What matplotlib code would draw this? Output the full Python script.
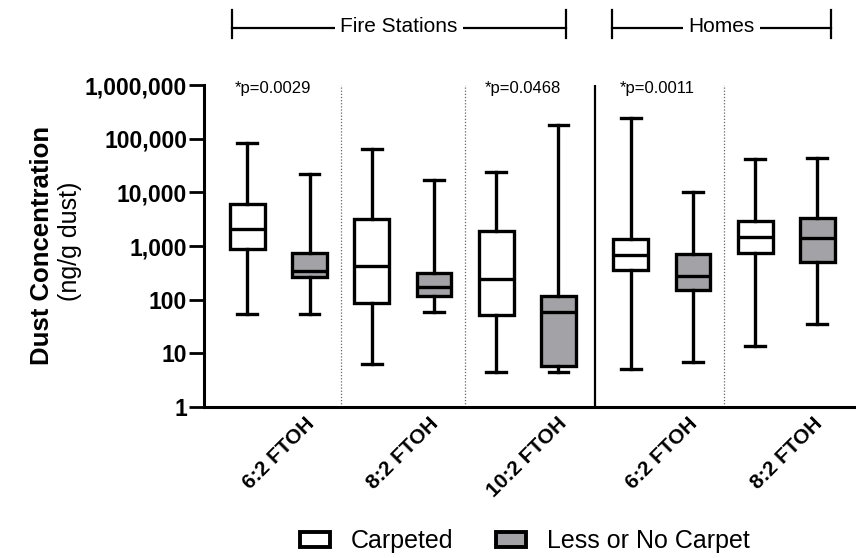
import numpy as np
import matplotlib
matplotlib.use("Agg")
import matplotlib.pyplot as plt
from matplotlib.patches import Patch
from matplotlib.ticker import FixedLocator, FixedFormatter

plt.rcParams["font.family"] = ["Liberation Sans", "DejaVu Sans"]

# ---- data (ng/g dust) ----
categories = ["6:2 FTOH", "8:2 FTOH", "10:2 FTOH", "6:2 FTOH", "8:2 FTOH"]
group_of = [0, 0, 0, 1, 1]
groups = ["Fire Stations", "Homes"]

carpet_whislo = [53, 6.2, 4.5, 5.0, 13.9]
carpet_q1 = [880, 85, 52, 357, 730]
carpet_med = [2050, 430, 243, 680, 1450]
carpet_q3 = [6000, 3140, 1930, 1330, 2920]
carpet_whishi = [84000, 63500, 23600, 245000, 42000]

less_whislo = [53, 58, 4.4, 6.8, 34.7]
less_q1 = [268, 118, 5.9, 151, 510]
less_med = [342, 174, 58, 280, 1430]
less_q3 = [750, 318, 118, 710, 3300]
less_whishi = [22000, 17000, 180000, 10300, 43000]

pvalues = {0: "*p=0.0029", 2: "*p=0.0468", 3: "*p=0.0011"}

y_ticks = [1, 10, 100, 1000, 10000, 100000, 1000000]

# ---- layout ----
centers = np.arange(len(categories)) + 0.6 + 0.08 * np.array(group_of)
grey = "#a3a3a7"
lw = 2.4


def stats(lo, q1, med, q3, hi):
    return [dict(whislo=a, q1=b, med=c, q3=d, whishi=e, fliers=[])
            for a, b, c, d, e in zip(lo, q1, med, q3, hi)]


fig = plt.figure(figsize=(8.56, 5.58), dpi=100)
ax = fig.add_axes([0.238, 0.2706, 0.762, 0.577])

common = dict(widths=0.28, capwidths=0.16, patch_artist=True, showfliers=False,
              whiskerprops=dict(linewidth=lw, color="black"),
              capprops=dict(linewidth=lw, color="black"),
              medianprops=dict(linewidth=lw, color="black"))
ax.bxp(stats(carpet_whislo, carpet_q1, carpet_med, carpet_q3, carpet_whishi),
       positions=centers - 0.25,
       boxprops=dict(facecolor="white", edgecolor="black", linewidth=lw), **common)
ax.bxp(stats(less_whislo, less_q1, less_med, less_q3, less_whishi),
       positions=centers + 0.25,
       boxprops=dict(facecolor=grey, edgecolor="black", linewidth=lw), **common)

ax.set_yscale("log")
ax.set_ylim(1, 1e6)
ax.set_xlim(0, 5.24)
ax.yaxis.set_major_locator(FixedLocator(y_ticks))
ax.yaxis.set_major_formatter(FixedFormatter([f"{v:,}" for v in y_ticks]))
ax.yaxis.set_minor_locator(FixedLocator([]))
ax.tick_params(axis="y", length=11, width=2, pad=1, labelsize=16.5)
for lab in ax.get_yticklabels():
    lab.set_fontweight("bold")

ax.set_xticks(centers)
ax.set_xticklabels(categories, rotation=45, ha="center", va="top",
                   fontsize=15, fontweight="bold")
ax.tick_params(axis="x", length=0, pad=5)
for lab in ax.get_xticklabels():
    lab.set_x(lab.get_position()[0])

for s in ["top", "right"]:
    ax.spines[s].set_visible(False)
for s in ["left", "bottom"]:
    ax.spines[s].set_linewidth(2.2)

# separators between categories
mids = (centers[:-1] + centers[1:]) / 2
for i, m in enumerate(mids):
    if group_of[i] != group_of[i + 1]:
        ax.axvline(m, color="black", lw=1.6)
    else:
        ax.axvline(m, color="#666666", lw=0.9, ls=(0, (1, 1.5)))

# p-values
for i, txt in pvalues.items():
    ax.text(centers[i] - 0.04, 0.99, txt, transform=ax.get_xaxis_transform(),
            ha="center", va="center", fontsize=12)

# group brackets
tr = ax.get_xaxis_transform()
spans = [(0.225, 2.91), (3.28, 5.04)]
for name, (x0, x1) in zip(groups, spans):
    ax.plot([x0, x1], [1.177, 1.177], color="black", lw=1.6, transform=tr, clip_on=False)
    for x in (x0, x1):
        ax.plot([x, x], [1.146, 1.233], color="black", lw=1.6, transform=tr, clip_on=False)
    ax.text((x0 + x1) / 2, 1.183, name, transform=tr, ha="center", va="center",
            fontsize=15, bbox=dict(facecolor="white", edgecolor="none", pad=4))

# y label (two lines, different weights)
fig.text(0.049, 0.561, "Dust Concentration", rotation=90, ha="center", va="center",
         fontsize=18.5, fontweight="bold")
fig.text(0.082, 0.568, "(ng/g dust)", rotation=90, ha="center", va="center", fontsize=18)

handles = [Patch(facecolor="white", edgecolor="black", linewidth=2.8, label="Carpeted"),
           Patch(facecolor=grey, edgecolor="black", linewidth=2.8, label="Less or No Carpet")]
fig.legend(handles=handles, loc="center", bbox_to_anchor=(0.613, 0.03), ncol=2,
           frameon=False, fontsize=18, handlelength=1.2, handleheight=0.5,
           handletextpad=0.85, columnspacing=1.7)

fig.savefig("out.png", dpi=100)
